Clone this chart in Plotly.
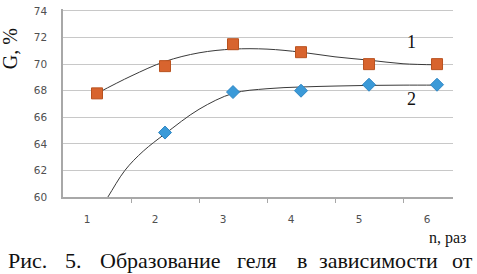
import plotly.graph_objects as go

# ---- data ----
n_values = [1, 2, 3, 4, 5, 6]
tick_labels = ["1", "2", "3", "4", "5", "6"]
series1 = [67.8, 69.85, 71.5, 70.9, 70.0, 70.0]
series2_n = [2, 3, 4, 5, 6]
series2 = [64.85, 67.9, 68.0, 68.45, 68.45]

# trend curves
trend1_n = [1, 1.5, 2, 2.5, 3, 3.5, 4, 4.5, 5, 5.5, 6]
trend1 = [67.8, 69.1, 70.2, 70.85, 71.13, 71.13, 70.9, 70.55, 70.3, 70.03, 69.95]
trend2_n = [1, 1.16, 1.41, 1.68, 2, 2.5, 3, 3.5, 4, 4.5, 5, 5.5, 6]
trend2 = [58.7, 60.0, 62.0, 63.45, 64.75, 66.6, 67.8, 68.15, 68.28, 68.35, 68.4, 68.42, 68.42]

y_ticks = [60, 62, 64, 66, 68, 70, 72, 74]

W, H = 477, 274
L, R, T, B = 63, 453, 5, 197


def px(x):
    return (x - L) / (R - L)


def py(y):
    return (B - y) / (B - T)


fig = go.Figure()
fig.add_trace(go.Scatter(x=trend1_n, y=trend1, mode="lines",
                         line=dict(color="#3a3a3a", width=1, shape="spline"),
                         hoverinfo="skip", showlegend=False))
fig.add_trace(go.Scatter(x=trend2_n, y=trend2, mode="lines",
                         line=dict(color="#3a3a3a", width=1, shape="spline"),
                         hoverinfo="skip", showlegend=False))
fig.add_trace(go.Scatter(x=n_values, y=series1, mode="markers",
                         marker=dict(symbol="square", size=11, color="#D8642E",
                                     line=dict(color="#B9521F", width=1)),
                         showlegend=False))
fig.add_trace(go.Scatter(x=series2_n, y=series2, mode="markers",
                         marker=dict(symbol="diamond", size=10, color="#3B9AD8",
                                     line=dict(color="#2E86C4", width=1)),
                         showlegend=False))

serif = "Liberation Serif"
ann = []


def add_text(text, x, y, size, xanchor="center", angle=0):
    ann.append(dict(text=text, x=px(x), y=py(y), xref="paper", yref="paper",
                    xanchor=xanchor, yanchor="middle", textangle=angle,
                    showarrow=False,
                    font=dict(family=serif, size=size, color="#111")))


add_text("G, %", 10, 46, 20, angle=-90)
add_text("1", 411, 39, 18)
add_text("2", 411, 97, 18)
add_text("n, раз", 447, 239, 16)
caption_words = [("Рис.", 6), ("5.", 63), ("Образование", 98), ("геля", 235),
                 ("в", 295), ("зависимости", 317), ("от", 450)]
for w, x0 in caption_words:
    add_text(w, x0, 262, 22, xanchor="left")

fig.update_layout(
    width=W, height=H,
    margin=dict(l=L, r=W - R, t=T, b=H - B),
    paper_bgcolor="white", plot_bgcolor="white",
    annotations=ann,
    xaxis=dict(range=[0.5, 6.235], tickmode="array",
               tickvals=[v - 0.147 for v in n_values], ticktext=tick_labels,
               ticks="", ticklabelstandoff=12,
               tickfont=dict(family="DejaVu Sans", size=10.5, color="#505050"),
               showgrid=False, zeroline=False,
               showline=True, linecolor="#A8A8A8", linewidth=1.5,
               minor=dict(tickmode="array", tickvals=[1.5, 2.5, 3.5, 4.5, 5.5],
                          ticks="outside", ticklen=4, tickcolor="#A8A8A8",
                          tickwidth=1, showgrid=False)),
    yaxis=dict(range=[60, 74.15], tickmode="array", tickvals=y_ticks,
               ticks="", ticklabelstandoff=12, ticklabeloverflow="allow",
               tickfont=dict(family="DejaVu Sans", size=10.5, color="#505050"),
               showgrid=True, gridcolor="#C8C8C8", gridwidth=1,
               zeroline=False, showline=True, linecolor="#A8A8A8", linewidth=1.5),
)

fig.write_html("out.html", config={"displayModeBar": False},
               post_script="document.body.style.margin='0';")
